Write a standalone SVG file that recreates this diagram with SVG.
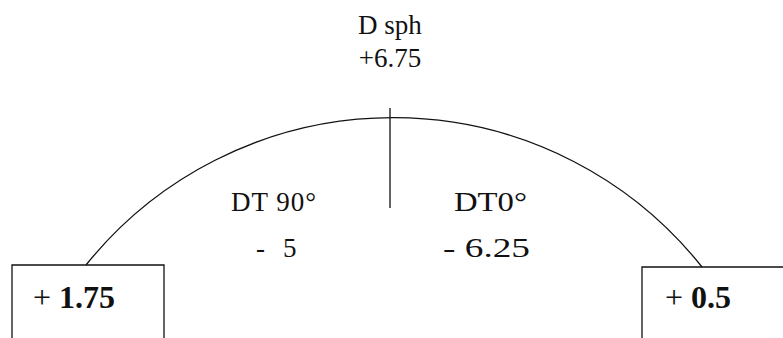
<svg xmlns="http://www.w3.org/2000/svg" width="783" height="338" viewBox="0 0 783 338">
<style>
.t{font-family:"Liberation Serif","Times New Roman",serif;font-size:27px;fill:#111}
.bx{font-size:32px}
.b{font-weight:bold}
.ln{fill:none;stroke:#111;stroke-width:1.3}
</style>
<rect width="783" height="338" fill="#fff"/>
<g id="connectors">
<path class="ln" d="M 86 265 A 394 394 0 0 1 702 267"/>
<line class="ln" x1="390" y1="108" x2="390" y2="208"/>
</g>
<g id="top-label">
<text class="t" x="390" y="34" text-anchor="middle">D sph</text>
<text class="t" x="390" y="67" text-anchor="middle">+6.75</text>
</g>
<g id="dt90">
<text class="t" x="231" y="211" textLength="85" lengthAdjust="spacing">DT 90°</text>
<text class="t" y="257"><tspan x="256">-</tspan><tspan x="283">5</tspan></text>
</g>
<g id="dt0">
<text class="t" x="454" y="211" textLength="73" lengthAdjust="spacingAndGlyphs">DT0°</text>
<text class="t" x="443" y="257" textLength="87" lengthAdjust="spacingAndGlyphs">- 6.25</text>
</g>
<g id="left-box">
<path class="ln" d="M 12 338 V 265 H 164 V 338"/>
<text class="t bx" x="33" y="308">+ <tspan class="b">1.75</tspan></text>
</g>
<g id="right-box">
<path class="ln" d="M 642 338 V 267 H 783"/>
<text class="t bx" x="665" y="308">+ <tspan class="b">0.5</tspan></text>
</g>
</svg>
